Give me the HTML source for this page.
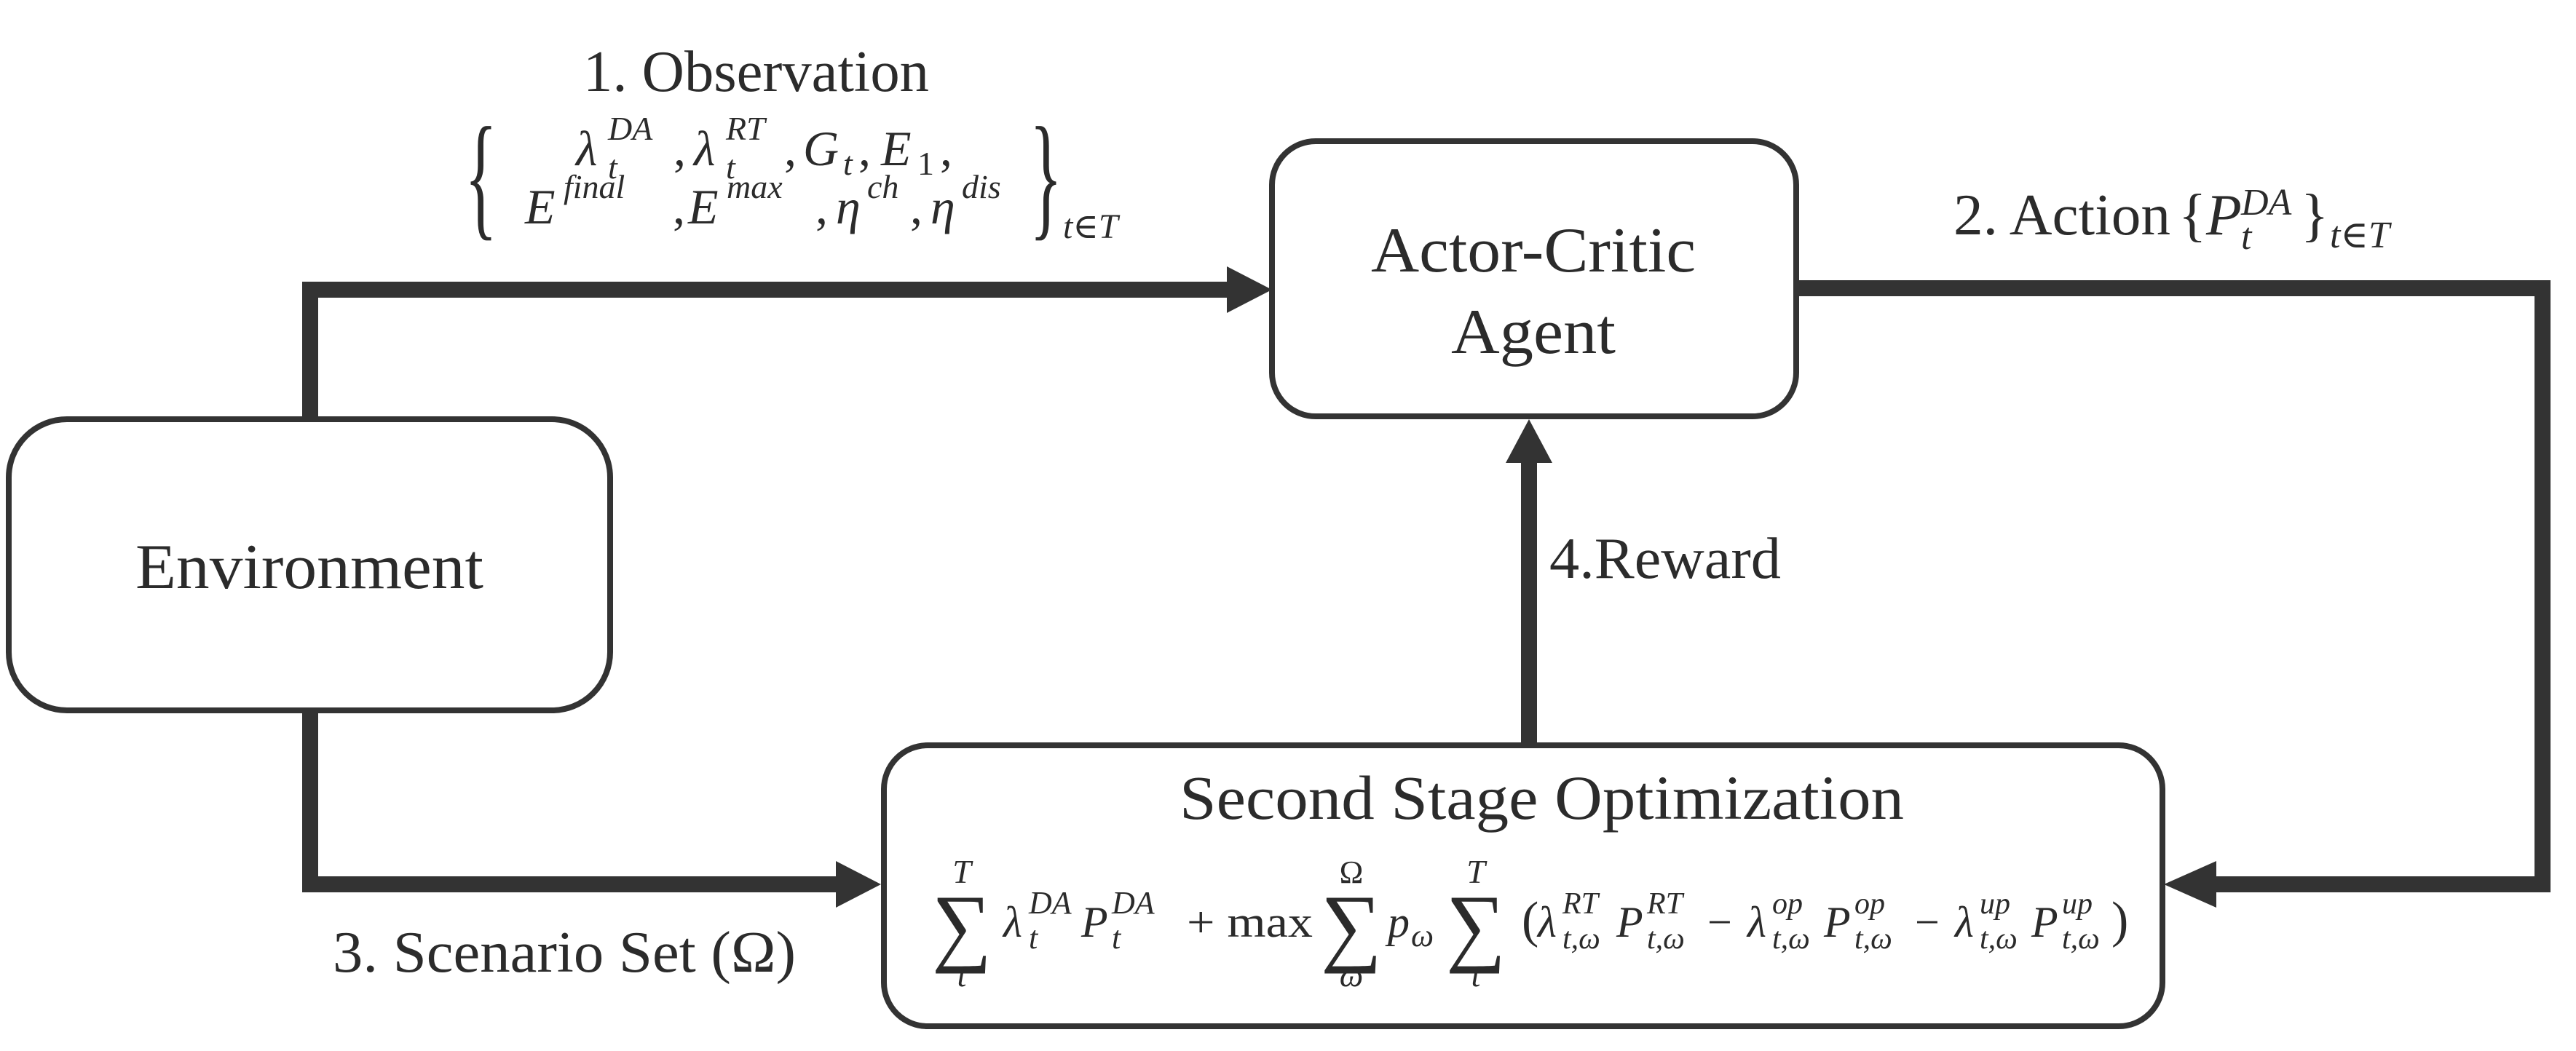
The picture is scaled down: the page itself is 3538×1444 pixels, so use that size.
<!DOCTYPE html>
<html><head><meta charset="utf-8"><style>
html,body{margin:0;padding:0;background:#fff;}
svg{display:block;}
text{font-family:"Liberation Serif","DejaVu Serif",serif;fill:#2b2b2b;}
.it{font-style:italic;}
</style></head><body>
<svg width="3538" height="1444" viewBox="0 0 3538 1444" xmlns="http://www.w3.org/2000/svg">
<g fill="none" stroke="#333" stroke-width="8">
<rect x="12" y="576" width="826" height="400" rx="80"/>
<rect x="1747" y="194" width="720" height="378" rx="60"/>
<rect x="1214" y="1024" width="1756" height="386" rx="60"/>
</g>
<g fill="none" stroke="#333" stroke-width="22" stroke-linejoin="miter">
<polyline points="426,576 426,398 1690,398"/>
<polyline points="426,976 426,1215 1150,1215"/>
<polyline points="2467,396 3492,396 3492,1215 3040,1215"/>
<line x1="2100" y1="1024" x2="2100" y2="630"/>
</g>
<g fill="#333">
<polygon points="1747,398 1685,366 1685,430"/>
<polygon points="1210,1215 1148,1183 1148,1247"/>
<polygon points="2972,1215 3044,1183 3044,1247"/>
<polygon points="2100,576 2068,636 2132,636"/>
</g>

<text x="801" y="125" font-size="80" textLength="475" lengthAdjust="spacingAndGlyphs">1. Observation</text>
<text x="638" y="305" font-size="190" textLength="45" lengthAdjust="spacingAndGlyphs">{</text>
<text x="1414" y="305" font-size="190" textLength="45" lengthAdjust="spacingAndGlyphs">}</text>
<text x="1460" y="327" font-size="48" class="it">t∈T</text>
<text y="227" font-size="68" class="it">
<tspan x="791">λ</tspan><tspan x="835" y="192" font-size="46">DA</tspan><tspan x="835" y="245" font-size="46">t</tspan><tspan x="925" y="227" font-style="normal">,</tspan>
<tspan x="953">λ</tspan><tspan x="997" y="192" font-size="46">RT</tspan><tspan x="997" y="245" font-size="46">t</tspan><tspan x="1077" y="227" font-style="normal">,</tspan>
<tspan x="1103">G</tspan><tspan x="1158" y="240" font-size="46">t</tspan><tspan x="1179" y="227" font-style="normal">,</tspan>
<tspan x="1210">E</tspan><tspan x="1260" y="240" font-size="46" font-style="normal">1</tspan><tspan x="1291" y="227" font-style="normal">,</tspan>
</text>
<text y="307" font-size="68" class="it">
<tspan x="721">E</tspan><tspan x="774" y="272" font-size="46">final</tspan><tspan x="924" y="307" font-style="normal">,</tspan>
<tspan x="945">E</tspan><tspan x="998" y="272" font-size="46">max</tspan><tspan x="1120" y="307" font-style="normal">,</tspan>
<tspan x="1148">η</tspan><tspan x="1191" y="272" font-size="46">ch</tspan><tspan x="1250" y="307" font-style="normal">,</tspan>
<tspan x="1278">η</tspan><tspan x="1321" y="272" font-size="46">dis</tspan>
</text>

<text x="186" y="808" font-size="88" textLength="478" lengthAdjust="spacingAndGlyphs">Environment</text>
<text x="2106" y="373" font-size="88" text-anchor="middle" textLength="446" lengthAdjust="spacingAndGlyphs">Actor-Critic</text>
<text x="2106" y="485" font-size="88" text-anchor="middle" textLength="226" lengthAdjust="spacingAndGlyphs">Agent</text>

<text y="322" font-size="80"><tspan x="2683" textLength="298" lengthAdjust="spacingAndGlyphs">2. Action</tspan><tspan x="2992">{</tspan><tspan x="3030" class="it">P</tspan><tspan x="3078" y="295" font-size="52" class="it">DA</tspan><tspan x="3078" y="342" font-size="52" class="it">t</tspan><tspan x="3160" y="322">}</tspan><tspan x="3200" y="340" font-size="52" class="it">t∈T</tspan></text>

<text x="2128" y="794" font-size="80" textLength="318" lengthAdjust="spacingAndGlyphs">4.Reward</text>
<text x="457" y="1335" font-size="80" textLength="636" lengthAdjust="spacingAndGlyphs">3. Scenario Set (Ω)</text>
<text x="1620" y="1125" font-size="86" textLength="995" lengthAdjust="spacingAndGlyphs">Second Stage Optimization</text>

<g font-size="60">
<text x="1280" y="1312" font-size="120" textLength="82" lengthAdjust="spacingAndGlyphs">∑</text>
<text x="1321" y="1213" font-size="46" class="it" text-anchor="middle">T</text>
<text x="1321" y="1355" font-size="46" class="it" text-anchor="middle">t</text>
<text y="1287" class="it"><tspan x="1378">λ</tspan><tspan x="1413" y="1255" font-size="44">DA</tspan><tspan x="1413" y="1303" font-size="44">t</tspan><tspan x="1485" y="1287">P</tspan><tspan x="1527" y="1255" font-size="44">DA</tspan><tspan x="1527" y="1303" font-size="44">t</tspan></text>
<text x="1630" y="1287" textLength="173" lengthAdjust="spacingAndGlyphs">+ max</text>
<text x="1814" y="1312" font-size="120" textLength="84" lengthAdjust="spacingAndGlyphs">∑</text>
<text x="1856" y="1213" font-size="44" text-anchor="middle">Ω</text>
<text x="1856" y="1355" font-size="46" class="it" text-anchor="middle">ω</text>
<text y="1287" class="it"><tspan x="1906">p</tspan><tspan x="1938" y="1300" font-size="44">ω</tspan></text>
<text x="1986" y="1312" font-size="120" textLength="82" lengthAdjust="spacingAndGlyphs">∑</text>
<text x="2027" y="1213" font-size="46" class="it" text-anchor="middle">T</text>
<text x="2027" y="1355" font-size="46" class="it" text-anchor="middle">t</text>
<text y="1287" class="it">
<tspan x="2090" font-style="normal" font-size="70">(</tspan><tspan x="2112">λ</tspan><tspan x="2146" y="1255" font-size="42">RT</tspan><tspan x="2146" y="1303" font-size="42">t,ω</tspan>
<tspan x="2220" y="1287">P</tspan><tspan x="2262" y="1255" font-size="42">RT</tspan><tspan x="2262" y="1303" font-size="42">t,ω</tspan>
<tspan x="2345" y="1287" font-style="normal">−</tspan>
<tspan x="2400">λ</tspan><tspan x="2434" y="1255" font-size="42">op</tspan><tspan x="2434" y="1303" font-size="42">t,ω</tspan>
<tspan x="2505" y="1287">P</tspan><tspan x="2547" y="1255" font-size="42">op</tspan><tspan x="2547" y="1303" font-size="42">t,ω</tspan>
<tspan x="2630" y="1287" font-style="normal">−</tspan>
<tspan x="2685">λ</tspan><tspan x="2719" y="1255" font-size="42">up</tspan><tspan x="2719" y="1303" font-size="42">t,ω</tspan>
<tspan x="2790" y="1287">P</tspan><tspan x="2832" y="1255" font-size="42">up</tspan><tspan x="2832" y="1303" font-size="42">t,ω</tspan>
<tspan x="2900" y="1287" font-style="normal" font-size="70">)</tspan>
</text>
</g>
</svg>
</body></html>
